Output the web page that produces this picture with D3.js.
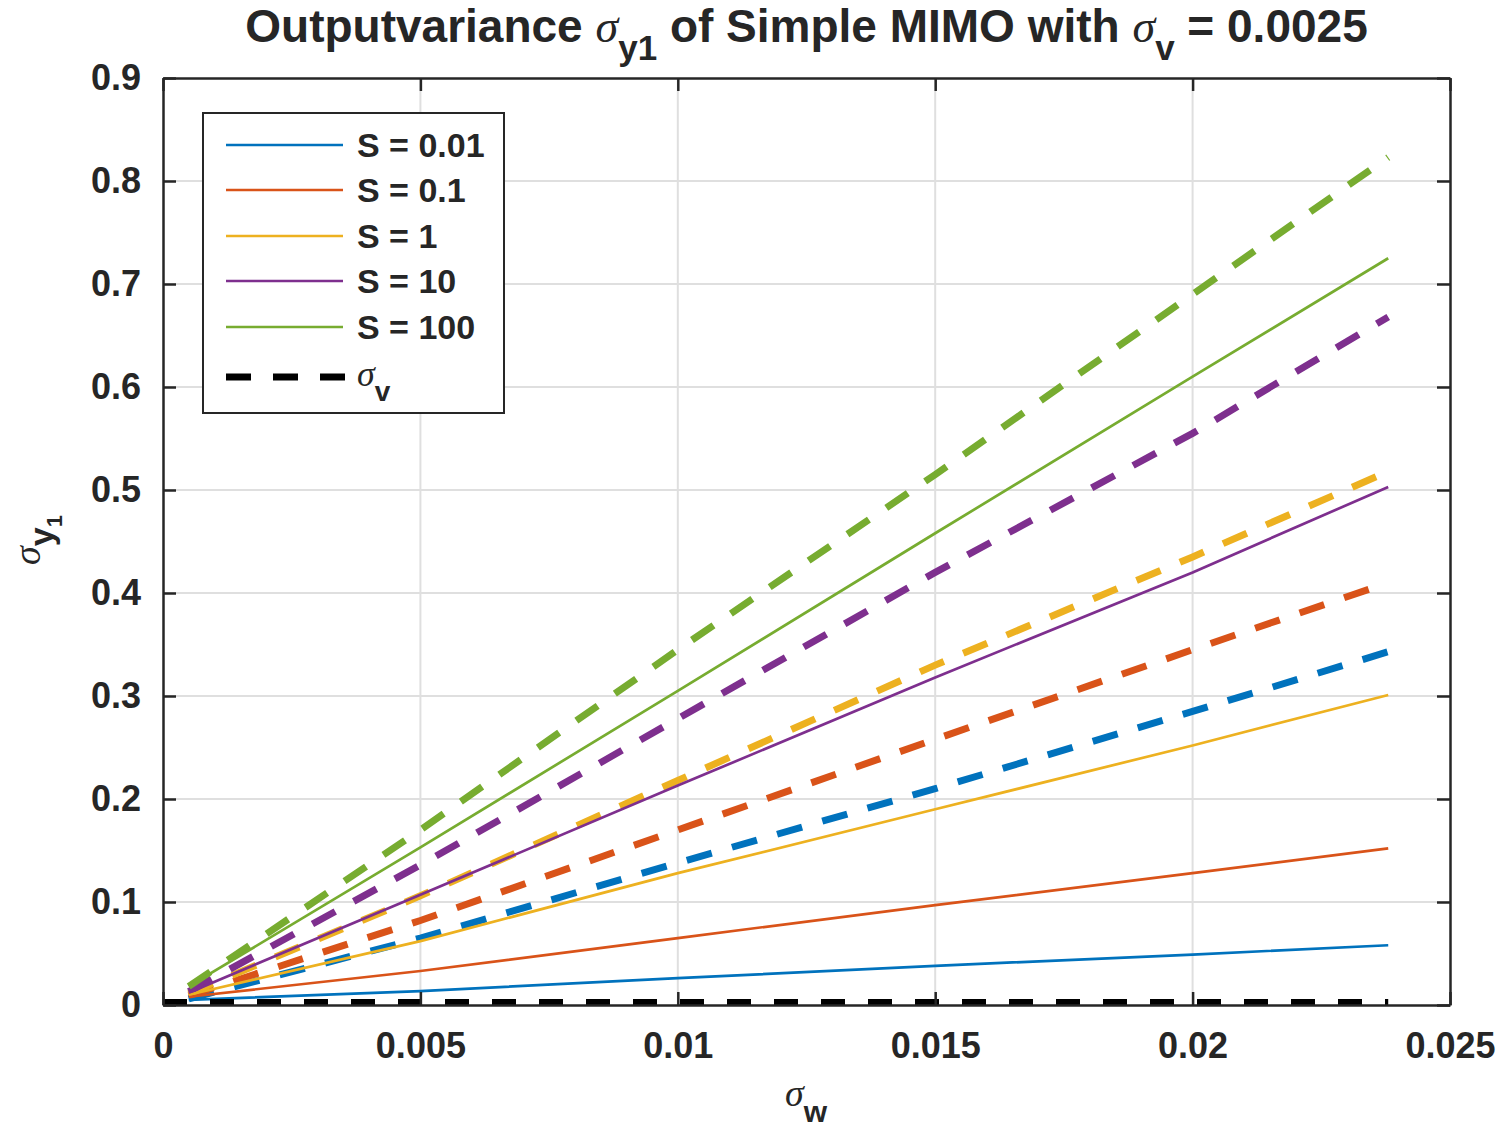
<!DOCTYPE html>
<html>
<head>
<meta charset="utf-8">
<script src="https://cdn.jsdelivr.net/npm/d3@7"></script>
<style>
  body { margin: 0; background: #fff; }
  text { font-family: "Liberation Sans", Arial, sans-serif; fill: #262626; }
</style>
</head>
<body>
<div class="svgtarget"></div>
<script>
// sigma_w sample points and read-off output variances
var sigmaW = [0.0005, 0.005, 0.01, 0.015, 0.02, 0.0238];
var sLabels = ["S = 0.01", "S = 0.1", "S = 1", "S = 10", "S = 100"];
var colors = ["#0072BD", "#D95319", "#EDB120", "#7E2F8E", "#77AC30"];

// solid lines
var solid001 = [0.005, 0.0135, 0.026, 0.038, 0.049, 0.058];
var solid01  = [0.008, 0.033, 0.065, 0.097, 0.128, 0.152];
var solid1   = [0.010, 0.062, 0.128, 0.190, 0.252, 0.301];
var solid10  = [0.012, 0.107, 0.213, 0.318, 0.420, 0.503];
var solid100 = [0.018, 0.153, 0.305, 0.458, 0.610, 0.725];

// dashed lines
var dash001 = [0.006, 0.065, 0.138, 0.210, 0.285, 0.343];
var dash01  = [0.009, 0.082, 0.170, 0.258, 0.345, 0.410];
var dash1   = [0.011, 0.106, 0.218, 0.330, 0.435, 0.518];
var dash10  = [0.013, 0.136, 0.278, 0.420, 0.555, 0.668];
var dash100 = [0.018, 0.170, 0.345, 0.515, 0.690, 0.823];

var sigmaVx = [0, 0.0238];
var sigmaV = [0.0025, 0.0025];

var xTicks = [0, 0.005, 0.01, 0.015, 0.02, 0.025];
var xTickLabels = ["0", "0.005", "0.01", "0.015", "0.02", "0.025"];
var yTicks = [0, 0.1, 0.2, 0.3, 0.4, 0.5, 0.6, 0.7, 0.8, 0.9];
var yTickLabels = ["0", "0.1", "0.2", "0.3", "0.4", "0.5", "0.6", "0.7", "0.8", "0.9"];

var W = 1501, H = 1134;
var plotL = 163, plotR = 1450, plotT = 78, plotB = 1005;
var axCol = "#262626";

var svg = d3.select(".svgtarget").append("svg")
    .attr("width", W).attr("height", H);

var x = d3.scaleLinear().domain([0, 0.025]).range([plotL, plotR]);
var y = d3.scaleLinear().domain([0, 0.9]).range([plotB, plotT]);

// grid
svg.append("g").selectAll("line").data(xTicks.slice(1, -1)).enter().append("line")
    .attr("x1", d => x(d)).attr("x2", d => x(d))
    .attr("y1", plotT).attr("y2", plotB)
    .attr("stroke", "#dfdfdf").attr("stroke-width", 2);
svg.append("g").selectAll("line").data(yTicks.slice(1, -1)).enter().append("line")
    .attr("x1", plotL).attr("x2", plotR)
    .attr("y1", d => y(d)).attr("y2", d => y(d))
    .attr("stroke", "#dfdfdf").attr("stroke-width", 2);

var line = d3.line().x(d => x(d[0])).y(d => y(d[1]));
function pts(ys, xs) { xs = xs || sigmaW; return xs.map((v, i) => [v, ys[i]]); }

var dashed = [dash001, dash01, dash1, dash10, dash100];
var solids = [solid001, solid01, solid1, solid10, solid100];

var plot = svg.append("g");
plot.selectAll("path.dash").data(dashed).enter().append("path")
    .attr("class", "dash")
    .attr("d", d => line(pts(d)))
    .attr("fill", "none")
    .attr("stroke", (d, i) => colors[i])
    .attr("stroke-width", 7)
    .attr("stroke-dasharray", "26,21");

plot.selectAll("path.solid").data(solids).enter().append("path")
    .attr("class", "solid")
    .attr("d", d => line(pts(d)))
    .attr("fill", "none")
    .attr("stroke", (d, i) => colors[i])
    .attr("stroke-width", 2.7);

plot.append("path")
    .attr("d", line(pts(sigmaV, sigmaVx)))
    .attr("fill", "none")
    .attr("stroke", "#000")
    .attr("stroke-width", 7)
    .attr("stroke-dasharray", "24,23");

// axes box with inward ticks
var xAxisB = d3.axisBottom(x).tickValues(xTicks).tickFormat((d, i) => xTickLabels[i]).tickSizeInner(-13).tickSizeOuter(0).tickPadding(27);
var xAxisT = d3.axisTop(x).tickValues(xTicks).tickFormat("").tickSizeInner(-13).tickSizeOuter(0);
var yAxisL = d3.axisLeft(y).tickValues(yTicks).tickFormat((d, i) => yTickLabels[i]).tickSizeInner(-13).tickSizeOuter(0).tickPadding(22);
var yAxisR = d3.axisRight(y).tickValues(yTicks).tickFormat("").tickSizeInner(-13).tickSizeOuter(0);

function styleAxis(g) {
    g.select(".domain").attr("stroke", axCol).attr("stroke-width", 2.5);
    g.selectAll(".tick line").attr("stroke", axCol).attr("stroke-width", 2.5);
    g.selectAll(".tick text").attr("fill", axCol).style("font-size", "36px")
        .style("font-weight", "bold")
        .style("font-family", "'Liberation Sans', Arial, sans-serif");
}
svg.append("g").attr("transform", "translate(0," + plotB + ")").call(xAxisB).call(styleAxis);
svg.append("g").attr("transform", "translate(0," + plotT + ")").call(xAxisT).call(styleAxis);
svg.append("g").attr("transform", "translate(" + plotL + ",0)").call(yAxisL).call(styleAxis);
svg.append("g").attr("transform", "translate(" + plotR + ",0)").call(yAxisR).call(styleAxis);

// text with sigma and subscripts
var sigFont = "'Liberation Serif', 'DejaVu Serif', serif";
function sigmaText(g, parts) {
    var t = g.append("text");
    parts.forEach(function (p) {
        var ts = t.append("tspan").text(p.t);
        if (p.sig) ts.style("font-family", sigFont).style("font-style", "italic").style("font-weight", "normal");
        if (p.size) ts.style("font-size", p.size + "px");
        if (p.dy) ts.attr("dy", p.dy);
    });
    return t;
}

// title
sigmaText(svg, [
    {t: "Outputvariance "},
    {t: "σ", sig: true},
    {t: "y1", dy: 18, size: 35},
    {t: " of Simple MIMO with ", dy: -18},
    {t: "σ", sig: true},
    {t: "v", dy: 18, size: 35},
    {t: " = 0.0025", dy: -18}
]).attr("x", (plotL + plotR) / 2).attr("y", 42)
  .attr("text-anchor", "middle")
  .style("font-size", "46px").style("font-weight", "bold").attr("fill", "#000");

// x label
sigmaText(svg, [
    {t: "σ", sig: true},
    {t: "w", dy: 16, size: 30}
]).attr("x", 806).attr("y", 1106).attr("text-anchor", "middle").style("font-size", "38px")
  .style("font-weight", "bold");

// y label
sigmaText(svg, [
    {t: "σ", sig: true},
    {t: "y", dy: 13, size: 34},
    {t: "1", dy: 9, size: 22}
]).attr("transform", "translate(40,540) rotate(-90)").attr("text-anchor", "middle").style("font-size", "38px")
  .style("font-weight", "bold");

// legend
var leg = svg.append("g");
leg.append("rect").attr("x", 203).attr("y", 113).attr("width", 301).attr("height", 300)
    .attr("fill", "#fff").attr("stroke", axCol).attr("stroke-width", 2);
var rowY = [145, 190, 236, 281, 327];
var rows = leg.selectAll("g.row").data(sLabels).enter().append("g").attr("class", "row")
    .attr("transform", (d, i) => "translate(0," + rowY[i] + ")");
rows.append("line").attr("x1", 226).attr("x2", 343).attr("y1", 0).attr("y2", 0)
    .attr("stroke", (d, i) => colors[i]).attr("stroke-width", 2.7);
rows.append("text").attr("x", 357).attr("y", 12).style("font-size", "34px").style("font-weight", "bold")
    .attr("fill", "#000").text(d => d);

leg.append("line").attr("x1", 226).attr("x2", 345).attr("y1", 377).attr("y2", 377)
    .attr("stroke", "#000").attr("stroke-width", 7).attr("stroke-dasharray", "25,22");
sigmaText(leg, [
    {t: "σ", sig: true},
    {t: "v", dy: 15, size: 28}
]).attr("x", 357).attr("y", 386).style("font-size", "36px").attr("fill", "#000").style("font-weight", "bold");
</script>
</body>
</html>
